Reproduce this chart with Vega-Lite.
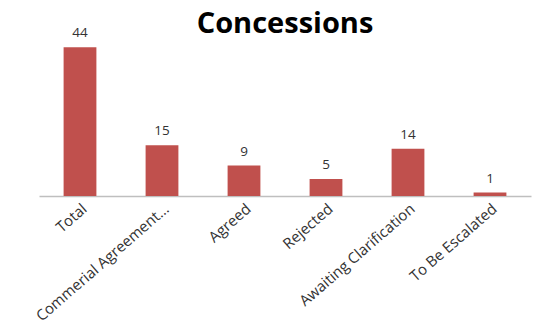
{
  "$schema": "https://vega.github.io/schema/vega-lite/v6.json",
  "autosize": "none",
  "width": 492,
  "height": 169,
  "padding": {"left": 39, "top": 27, "right": 11, "bottom": 139},
  "background": "white",
  "title": {
    "text": "Concessions",
    "font": "Open Sans",
    "fontSize": 29,
    "fontWeight": "bold",
    "color": "#000000",
    "anchor": "middle",
    "baseline": "alphabetic",
    "offset": 0,
    "dy": 36
  },
  "data": {
    "values": [
      {"category": "Total", "count": 44},
      {"category": "Commerial Agreement...", "count": 15},
      {"category": "Agreed", "count": 9},
      {"category": "Rejected", "count": 5},
      {"category": "Awaiting Clarification", "count": 14},
      {"category": "To Be Escalated", "count": 1}
    ]
  },
  "encoding": {
    "x": {
      "field": "category",
      "type": "nominal",
      "sort": null,
      "scale": {"paddingInner": 0.6, "paddingOuter": 0.3},
      "axis": {
        "title": null,
        "labelAngle": -41,
        "labelAlign": "right",
        "labelBaseline": "top",
        "labelFont": "Open Sans",
        "labelFontSize": 15,
        "labelColor": "#333333",
        "labelPadding": 5,
        "labelDx": 6,
        "ticks": false,
        "domainColor": "#BFBFBF",
        "domainWidth": 1.5,
        "labelLimit": 300
      }
    },
    "y": {
      "field": "count",
      "type": "quantitative",
      "scale": {"domain": [0, 50]},
      "axis": null
    }
  },
  "layer": [
    {"mark": {"type": "bar", "color": "#C0504D"}},
    {
      "mark": {"type": "text", "dy": -14, "font": "Open Sans", "fontSize": 13.5, "color": "#333333"},
      "encoding": {"text": {"field": "count", "type": "quantitative"}}
    }
  ],
  "config": {"view": {"stroke": null}}
}
